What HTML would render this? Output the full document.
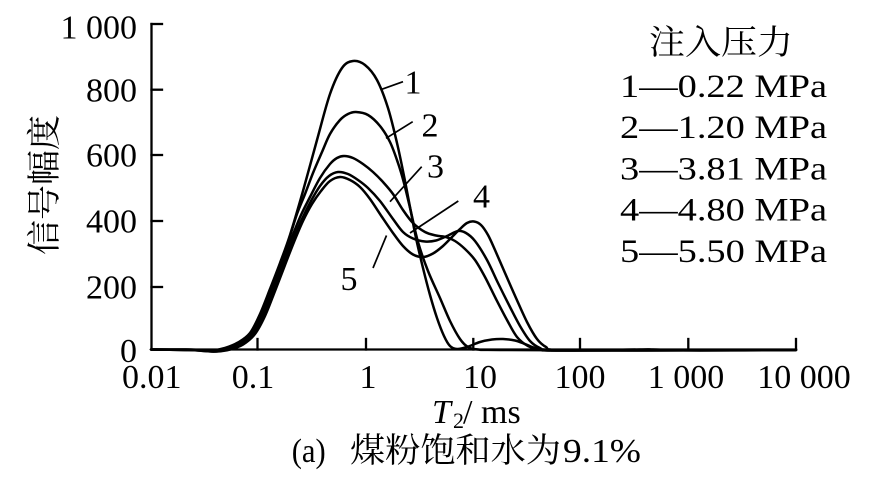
<!DOCTYPE html>
<html>
<head>
<meta charset="utf-8">
<style>
  html, body { margin:0; padding:0; background:#fff; }
  svg { display:block; }
  text { font-family: "Liberation Serif", "Noto Serif CJK SC", serif; fill:#000; }
  .cjk { font-family: "Liberation Serif", "Noto Serif CJK SC", "Noto Sans CJK SC", serif; }
</style>
</head>
<body>
<svg id="chart" width="881" height="487" viewBox="0 0 881 487" xmlns="http://www.w3.org/2000/svg">
  <rect width="881" height="487" fill="#fff"/>

  <!-- axes -->
  <g stroke="#000" stroke-width="2.3" fill="none" stroke-linecap="square">
    <line x1="151.5" y1="24" x2="151.5" y2="349.5"/>
    <line x1="151.5" y1="349.5" x2="796" y2="349.5"/>
    <!-- y ticks -->
    <line x1="151.5" y1="24" x2="162" y2="24"/>
    <line x1="151.5" y1="89.7" x2="162" y2="89.7"/>
    <line x1="151.5" y1="155" x2="162" y2="155"/>
    <line x1="151.5" y1="221" x2="162" y2="221"/>
    <line x1="151.5" y1="287" x2="162" y2="287"/>
    <!-- x ticks -->
    <line x1="257.5" y1="349.5" x2="257.5" y2="339"/>
    <line x1="366" y1="349.5" x2="366" y2="339"/>
    <line x1="473.3" y1="349.5" x2="473.3" y2="339"/>
    <line x1="580" y1="349.5" x2="580" y2="339"/>
    <line x1="688.3" y1="349.5" x2="688.3" y2="339"/>
    <line x1="796" y1="349.5" x2="796" y2="339"/>
  </g>

  <!-- y tick labels -->
  <g font-size="34" text-anchor="end">
    <text x="137" y="38.5">1 000</text>
    <text x="137" y="101.5">800</text>
    <text x="137" y="166.5">600</text>
    <text x="137" y="232.5">400</text>
    <text x="137" y="298.5">200</text>
    <text x="137" y="362">0</text>
  </g>

  <!-- x tick labels -->
  <g font-size="34" text-anchor="middle">
    <text x="151.7" y="388">0.01</text>
    <text x="253" y="388">0.1</text>
    <text x="368" y="388">1</text>
    <text x="480" y="388">10</text>
    <text x="580" y="388">100</text>
    <text x="686" y="388">1 000</text>
    <text x="804" y="388">10 000</text>
  </g>

  <!-- axis titles -->
  <text class="cjk" font-size="34" text-anchor="middle" transform="translate(56,185) rotate(-90)" textLength="140" lengthAdjust="spacingAndGlyphs">信号幅度</text>

  <g font-size="34">
    <text x="432" y="423" font-style="italic">T</text>
    <text x="453" y="428" font-size="22">2</text>
    <text x="463" y="423">/</text>
    <text x="481" y="423">ms</text>
  </g>

  <!-- caption -->
  <g font-size="34">
    <text x="291.7" y="462" textLength="34" lengthAdjust="spacingAndGlyphs">(a)</text>
    <text class="cjk" x="350" y="462" textLength="211" lengthAdjust="spacingAndGlyphs">煤粉饱和水为</text>
    <text x="563" y="462" textLength="78" lengthAdjust="spacingAndGlyphs">9.1%</text>
  </g>

  <!-- legend -->
  <text class="cjk" x="721" y="54" font-size="34" text-anchor="middle" textLength="144" lengthAdjust="spacingAndGlyphs">注入压力</text>
  <g font-size="33">
    <text x="620" y="97" textLength="207" lengthAdjust="spacingAndGlyphs">1—0.22 MPa</text>
    <text x="620" y="138" textLength="207" lengthAdjust="spacingAndGlyphs">2—1.20 MPa</text>
    <text x="620" y="179.5" textLength="207" lengthAdjust="spacingAndGlyphs">3—3.81 MPa</text>
    <text x="620" y="220.5" textLength="207" lengthAdjust="spacingAndGlyphs">4—4.80 MPa</text>
    <text x="620" y="262" textLength="207" lengthAdjust="spacingAndGlyphs">5—5.50 MPa</text>
  </g>

  <!-- curves (polyline fallback, smoothed by script) -->
  <g id="curves" stroke="#000" stroke-width="2.5" fill="none" stroke-linejoin="round" stroke-linecap="round">
    <polyline points="151,349.5 185,349.5 200,350 212,350.5 225,348 238,342.5 250,333 260,314 270,289 280,263 290,235 303,191 317,140 330,94 342,68 353,61 365,65 377,80 388,108 397,143 404,176 410,207 416,238 423,268 430,295 437,318 444,336 450,346 457,349 467,347 480,342 492,339.5 503,339 515,340.5 525,344 535,348 548,350 570,350.5 680,350 796,350"/>
    <polyline points="151,349.5 187,349.5 202,350 214,350.5 227,348 240,342 252,331 262,312 272,286 282,260 290,236 297,214 305,194 313,173 322,152 330,134 340,120 348,114 356,112 368,115 380,126 390,142 398,163 404,183 411,212 418,242 428,271 440,298 450,321 460,339 468,347 478,349.5 500,350 650,350.5 796,350"/>
    <polyline points="151,349.5 188,350 203,350.5 215,351 228,348.5 241,343 253,332 263,313 273,288 283,261 292,237 301,215 310,197 320,178 330,164 337,158 344,156 353,158 363,164 373,172 383,182 393,194 403,210 413,223 425,232 436,235.5 446,237 455,241 465,249 475,260 485,277 496,299 507,320 517,337 528,346 540,349.5 560,350.5 700,350 796,350"/>
    <polyline points="151,349.5 189,350 204,351 216,351.5 229,349 242,343.5 254,333 264,314 274,289 284,263 293,240 302,219 311,201 320,186 329,176 338,172 348,174 358,180 368,188 380,201 393,219 403,232 413,238.5 425,241.5 436,240.5 447,236 458,231 466,233 475,241 487,260 498,283 510,307 520,326 530,341 540,348 553,350.5 640,349.5 653,349.5 700,350.5 796,350"/>
    <polyline points="151,349.5 190,350 205,351 217,351.5 230,349.5 243,344.5 255,334 265,316 275,291 285,265 294,242 303,221 312,204 321,191 330,181 340,177 350,180 360,187 370,199 382,217 393,233 403,246 413,254.5 423,257 433,253.5 443,246 452,237 460,229 467,223 474,221.5 481,225 488,235 495,250 505,273 516,298 527,322 537,339 546,347 556,350 620,350.5 796,350"/>
  </g>

  <!-- curve labels and leader lines -->
  <g stroke="#000" stroke-width="1.7">
    <line x1="381.7" y1="89.3" x2="403" y2="81.7"/>
    <line x1="386" y1="138.3" x2="412.7" y2="121.7"/>
    <line x1="390" y1="201.7" x2="421.7" y2="166.7"/>
    <line x1="410" y1="233" x2="458.3" y2="201"/>
    <line x1="373" y1="268" x2="386.5" y2="235.5"/>
  </g>
  <g font-size="34" text-anchor="middle">
    <text x="413" y="93.5">1</text>
    <text x="430" y="136.5">2</text>
    <text x="435.5" y="177.5">3</text>
    <text x="481.5" y="207.5">4</text>
    <text x="349" y="290">5</text>
  </g>
</svg>
<script>
(function(){
  var g = document.getElementById('curves');
  var pls = Array.prototype.slice.call(g.querySelectorAll('polyline'));
  pls.forEach(function(pl){
    var raw = pl.getAttribute('points').trim().split(/\s+/).map(function(s){
      var a = s.split(','); return [parseFloat(a[0]), parseFloat(a[1])];
    });
    var d = 'M' + raw[0][0] + ',' + raw[0][1];
    for (var i = 0; i < raw.length - 1; i++) {
      var p0 = raw[i-1] || raw[i], p1 = raw[i], p2 = raw[i+1], p3 = raw[i+2] || raw[i+1];
      var c1x = p1[0] + (p2[0]-p0[0])/6, c1y = p1[1] + (p2[1]-p0[1])/6;
      var c2x = p2[0] - (p3[0]-p1[0])/6, c2y = p2[1] - (p3[1]-p1[1])/6;
      d += ' C' + c1x.toFixed(2) + ',' + c1y.toFixed(2) + ' ' + c2x.toFixed(2) + ',' + c2y.toFixed(2) + ' ' + p2[0] + ',' + p2[1];
    }
    var path = document.createElementNS('http://www.w3.org/2000/svg','path');
    path.setAttribute('d', d);
    g.replaceChild(path, pl);
  });
})();
</script>
</body>
</html>
